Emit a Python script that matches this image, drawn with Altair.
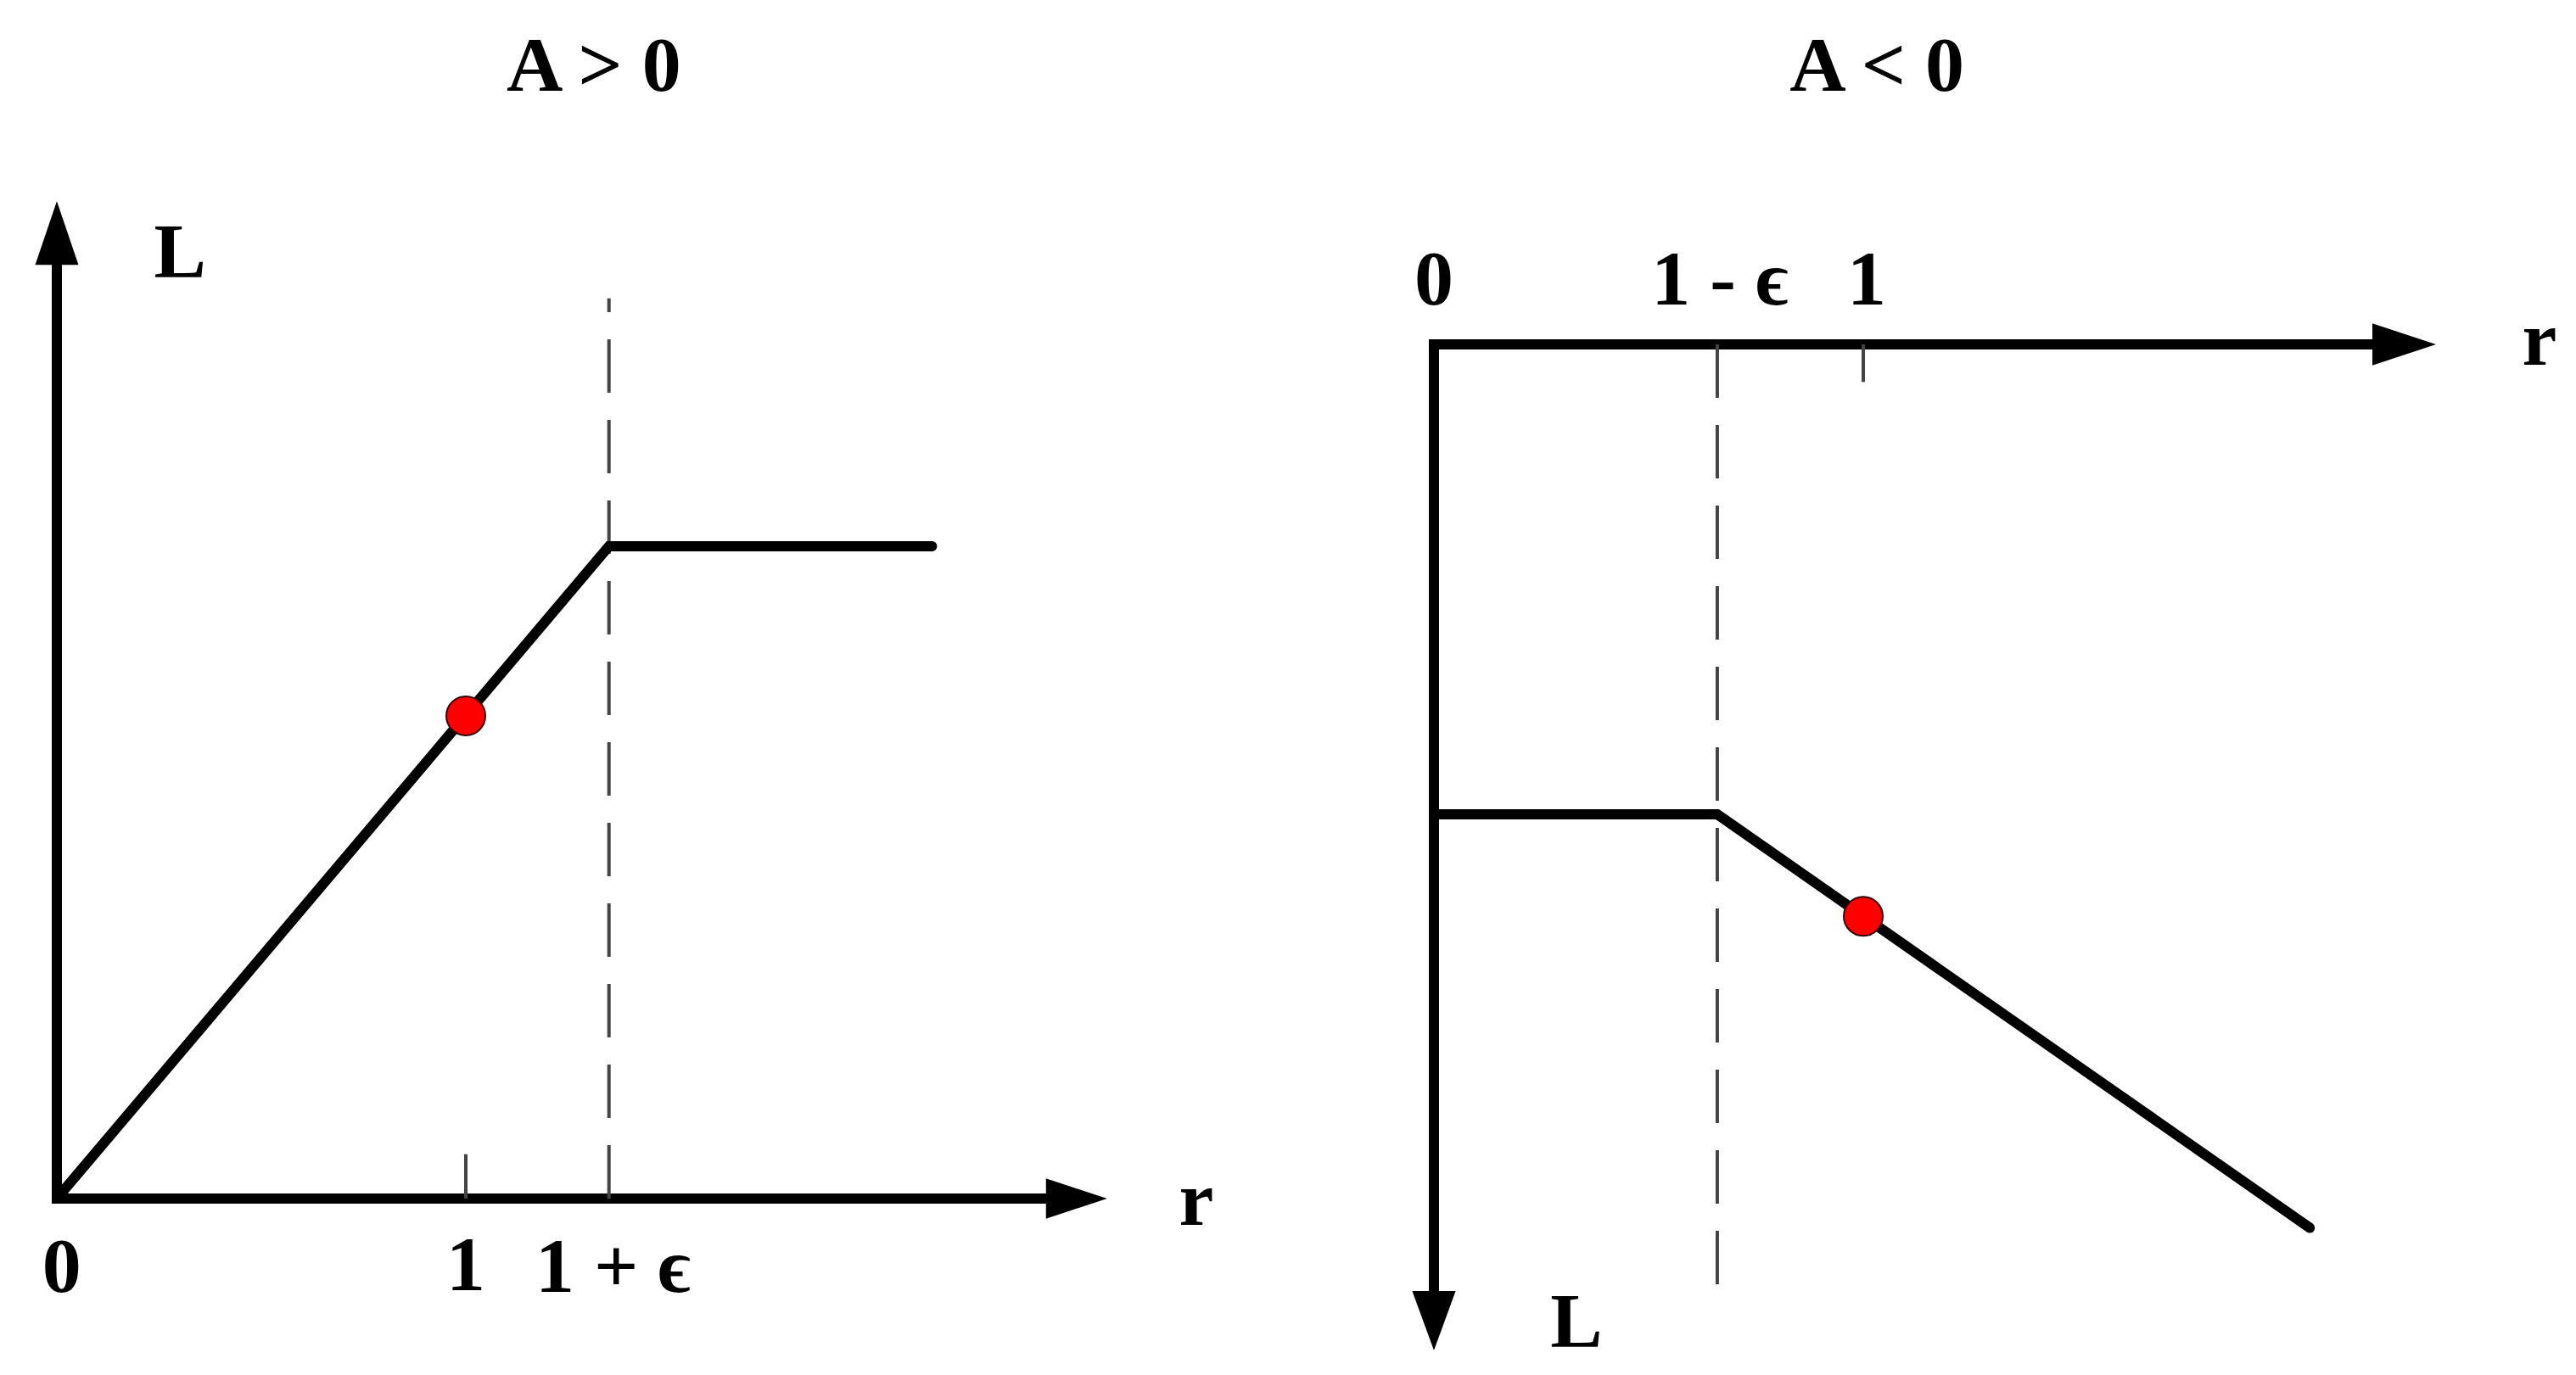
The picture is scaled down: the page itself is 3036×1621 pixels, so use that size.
import altair as alt
import pandas as pd

# ---------------- Left panel : A > 0 ----------------
l_curve_r = [0.0, 1.35, 2.14]
l_curve_L = [0.0, 1.0, 1.0]
l_point_r = [1.0]
l_point_L = [0.74]
l_dash_r = [1.35]
l_dash_L = [0.0, 1.38]
l_tick_r = [1.0]
l_tick_L = [0.0, 0.068]
l_xaxis = [0.0, 2.46]        # r-axis line (from, to)
l_xtip = 2.568               # r-axis arrow tip
l_yaxis = [0.0, 1.45]        # L-axis line (from, to)
l_ytip = 1.529               # L-axis arrow tip
l_text = ["A > 0", "L", "r", "0", "1", "1 + ϵ"]
l_text_r = [1.313, 0.301, 2.786, 0.012, 1.0, 1.36]
l_text_L = [1.698, 1.412, -0.040, -0.143, -0.140, -0.143]
l_rdom = [-0.1224, 3.0104]
l_Ldom = [-0.2536, 1.827]

# ---------------- Right panel : A < 0 ----------------
r_curve_r = [0.0, 0.66, 2.04]
r_curve_L = [1.0, 1.0, 1.88]
r_point_r = [1.0]
r_point_L = [1.217]
r_dash_r = [0.66]
r_dash_L = [0.0, 2.0]
r_tick_r = [1.0]
r_tick_L = [0.0, 0.08]
r_xaxis = [0.0, 2.23]
r_xtip = 2.334
r_yaxis = [0.0, 2.05]
r_ytip = 2.141
r_text = ["A < 0", "0", "1 - ϵ", "1", "r", "L"]
r_text_r = [1.032, 0.0, 0.666, 1.008, 2.575, 0.332]
r_text_L = [-0.540, -0.085, -0.085, -0.085, 0.043, 2.134]
r_rdom = [-0.3399, 2.6443]
r_Ldom = [-0.7184, 2.1697]

W, H = 1510, 1600
FONT = "Liberation Serif"

UP = "M0,0L0.68,2L-0.68,2Z"
DOWN = "M0,0L0.73,-2L-0.73,-2Z"
RIGHT = "M0,0L-2,-0.66L-2,0.66Z"


def panel(curve_r, curve_L, point_r, point_L, dash_r, dash_L, tick_r, tick_L,
          xaxis, xtip, yaxis, ytip, texts, text_r, text_L, rdom, Ldom,
          reverse, yarrow, ysize, xsize):
    xs = alt.Scale(domain=rdom, nice=False, zero=False)
    ys = alt.Scale(domain=Ldom, nice=False, zero=False, reverse=reverse)
    X = alt.X("r:Q", scale=xs, axis=None)
    Y = alt.Y("L:Q", scale=ys, axis=None)

    axes_df = pd.DataFrame({
        "r": [xaxis[0], 0.0], "L": [0.0, yaxis[0]],
        "r2": [xaxis[1], 0.0], "L2": [0.0, yaxis[1]],
    })
    axes = alt.Chart(axes_df).mark_rule(color="black", strokeWidth=12, strokeCap="square").encode(
        x=X, y=Y, x2="r2:Q", y2="L2:Q")

    xarrow = alt.Chart(pd.DataFrame({"r": [xtip], "L": [0.0]})).mark_point(
        filled=True, shape=RIGHT, size=xsize, color="black", opacity=1, strokeWidth=0
    ).encode(x=X, y=Y)
    yarrow_c = alt.Chart(pd.DataFrame({"r": [0.0], "L": [ytip]})).mark_point(
        filled=True, shape=yarrow, size=ysize, color="black", opacity=1, strokeWidth=0
    ).encode(x=X, y=Y)

    dash = alt.Chart(pd.DataFrame({"r": dash_r, "L": [dash_L[0]], "r2": dash_r, "L2": [dash_L[1]]})).mark_rule(
        color="#444444", strokeWidth=4, strokeDash=[63, 32]
    ).encode(x=X, y=Y, x2="r2:Q", y2="L2:Q")

    tick = alt.Chart(pd.DataFrame({"r": tick_r, "L": [tick_L[0]], "r2": tick_r, "L2": [tick_L[1]]})).mark_rule(
        color="#444444", strokeWidth=4
    ).encode(x=X, y=Y, x2="r2:Q", y2="L2:Q")

    curve = alt.Chart(pd.DataFrame({"r": curve_r, "L": curve_L, "o": list(range(len(curve_r)))})).mark_line(
        color="black", strokeWidth=12, strokeCap="round", strokeJoin="miter"
    ).encode(x=X, y=Y, order="o:Q")

    dot = alt.Chart(pd.DataFrame({"r": point_r, "L": point_L})).mark_point(
        filled=True, shape="circle", size=2116, fill="#ff0000", stroke="#330000",
        strokeWidth=2, opacity=1
    ).encode(x=X, y=Y)

    labels = alt.Chart(pd.DataFrame({"r": text_r, "L": text_L, "t": texts})).mark_text(
        font=FONT, fontSize=92, fontWeight="bold", color="black", align="center",
        baseline="alphabetic"
    ).encode(x=X, y=Y, text="t:N")

    return alt.layer(axes, xarrow, yarrow_c, dash, tick, curve, dot, labels).properties(
        width=W, height=H)


left = panel(l_curve_r, l_curve_L, l_point_r, l_point_L, l_dash_r, l_dash_L, l_tick_r, l_tick_L,
             l_xaxis, l_xtip, l_yaxis, l_ytip, l_text, l_text_r, l_text_L, l_rdom, l_Ldom,
             False, UP, 5625, 5184)
right = panel(r_curve_r, r_curve_L, r_point_r, r_point_L, r_dash_r, r_dash_L, r_tick_r, r_tick_L,
              r_xaxis, r_xtip, r_yaxis, r_ytip, r_text, r_text_r, r_text_L, r_rdom, r_Ldom,
              True, DOWN, 4900, 5625)

chart = alt.hconcat(left, right, spacing=0).properties(padding=0).configure_view(stroke=None)

chart.save("out.html", embed_options={"renderer": "svg", "actions": False})
